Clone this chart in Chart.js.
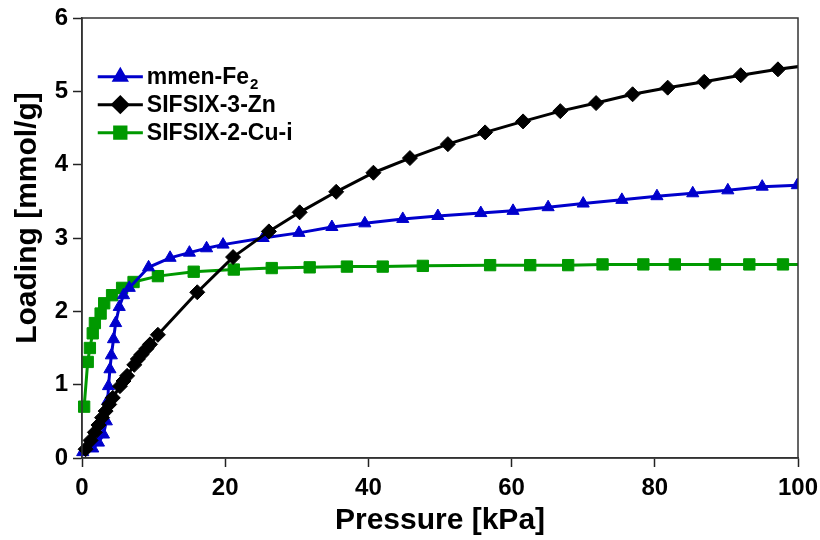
<!DOCTYPE html>
<html>
<head>
<meta charset="utf-8">
<script src="https://cdn.jsdelivr.net/npm/chart.js@4.4.0/dist/chart.umd.min.js"></script>
<style>
  html, body { margin: 0; padding: 0; background: #fff; }
  #wrap { width: 820px; height: 540px; position: relative; }
</style>
</head>
<body>
<div id="wrap"><canvas id="chart" width="820" height="540"></canvas></div>
<script>
// pressure in kPa, loading in mmol/g
const fePressure = [0.1, 1.5, 2.3, 3.0, 3.4, 3.6, 3.7, 3.9, 4.1, 4.4, 4.7, 5.2, 5.8, 6.6, 9.3, 12.3, 15.0, 17.4, 19.7,
    25.3, 30.3, 34.9, 39.5, 44.8, 49.7, 55.7, 60.2, 65.1, 70.0, 75.4, 80.3, 85.3, 90.2, 95.0, 99.9];
const feLoading = [0.08, 0.13, 0.21, 0.32, 0.50, 0.78, 0.98, 1.21, 1.40, 1.62, 1.84, 2.06, 2.22, 2.32, 2.60, 2.73, 2.80, 2.86, 2.91,
    3.00, 3.07, 3.15, 3.20, 3.26, 3.30, 3.34, 3.37, 3.42, 3.47, 3.52, 3.57, 3.61, 3.65, 3.70, 3.72];

const znPressure = [0.5, 1.2, 1.8, 2.3, 2.8, 3.3, 3.8, 4.3, 5.3, 5.8, 6.3, 7.3, 7.8, 8.3, 9.0, 9.5, 10.6, 16.1, 21.1,
    26.1, 30.4, 35.5, 40.7, 45.8, 51.1, 56.3, 61.6, 66.8, 71.8, 76.9, 81.8, 86.9, 92.0, 97.2, 102.5];
const znLoading = [0.12, 0.24, 0.35, 0.45, 0.55, 0.64, 0.73, 0.82, 0.98, 1.05, 1.12, 1.27, 1.35, 1.41, 1.49, 1.55, 1.68, 2.26, 2.74,
    3.09, 3.35, 3.63, 3.89, 4.09, 4.28, 4.44, 4.59, 4.73, 4.84, 4.96, 5.05, 5.13, 5.22, 5.30, 5.37];

const cuPressure = [0.3, 0.8, 1.1, 1.5, 1.8, 2.6, 3.1, 4.2, 5.6, 7.2, 10.6, 15.6, 21.2, 26.5, 31.8, 37.0, 42.0, 47.6,
    57.0, 62.6, 67.9, 72.7, 78.4, 82.8, 88.4, 93.2, 97.9, 103.0];
const cuLoading = [0.70, 1.31, 1.50, 1.70, 1.84, 1.97, 2.11, 2.22, 2.32, 2.40, 2.48, 2.54, 2.57, 2.59, 2.60, 2.61, 2.61, 2.62,
    2.63, 2.63, 2.63, 2.64, 2.64, 2.64, 2.64, 2.64, 2.64, 2.64];

const xTicks = [0, 20, 40, 60, 80, 100];
const yTicks = [0, 1, 2, 3, 4, 5, 6];
const xTitle = 'Pressure [kPa]';
const yTitle = 'Loading [mmol/g]';

const FONT = "'Liberation Sans', Arial, Helvetica, sans-serif";
const BLUE = '#0000cc';
const GREEN = '#009900';
const BLACK = '#000000';

function toPoints(xs, ys) {
    return xs.map((x, i) => ({ x: x, y: ys[i] }));
}

// legend drawn inside the plot, with a real subscript for Fe2
const legendItems = [
    { name: 'mmen-Fe', sub: '2', color: BLUE, style: 'triangle', radius: 7 },
    { name: 'SIFSIX-3-Zn', sub: '', color: BLACK, style: 'rectRot', radius: 7.5 },
    { name: 'SIFSIX-2-Cu-i', sub: '', color: GREEN, style: 'rect', radius: 8 }
];

const insideLegend = {
    id: 'insideLegend',
    afterDraw(chart) {
        const ctx = chart.ctx;
        const x0 = chart.scales.x.getPixelForValue(2.2);
        const x1 = chart.scales.x.getPixelForValue(8.5);
        const xm = (x0 + x1) / 2;
        ctx.save();
        legendItems.forEach((item, i) => {
            const y = chart.scales.y.getPixelForValue(5.2) + i * 28;
            ctx.strokeStyle = item.color;
            ctx.lineWidth = 3;
            ctx.beginPath();
            ctx.moveTo(x0, y);
            ctx.lineTo(x1, y);
            ctx.stroke();
            ctx.fillStyle = item.color;
            Chart.helpers.drawPoint(ctx, { pointStyle: item.style, radius: item.radius, rotation: 0, borderWidth: 1 }, xm, y);
            ctx.fill();
            ctx.fillStyle = '#000';
            ctx.font = 'bold 23px ' + FONT;
            ctx.textBaseline = 'middle';
            ctx.textAlign = 'left';
            ctx.fillText(item.name, x1 + 4, y + 1);
            if (item.sub) {
                const w = ctx.measureText(item.name).width;
                ctx.font = 'bold 15px ' + FONT;
                ctx.fillText(item.sub, x1 + 4 + w + 1, y + 8);
            }
        });
        ctx.restore();
    }
};

// box round the plot plus the two axis titles
const frame = {
    id: 'frame',
    afterDatasetsDraw(chart) {
        const a = chart.chartArea;
        const ctx = chart.ctx;
        ctx.save();
        ctx.strokeStyle = '#333';
        ctx.lineWidth = 1.5;
        ctx.strokeRect(a.left, a.top, a.right - a.left, a.bottom - a.top);
        ctx.restore();
    },
    afterDraw(chart) {
        const a = chart.chartArea;
        const ctx = chart.ctx;
        ctx.save();
        ctx.fillStyle = '#000';
        ctx.font = 'bold 30px ' + FONT;
        ctx.textAlign = 'center';
        ctx.textBaseline = 'middle';
        ctx.fillText(xTitle, (a.left + a.right) / 2, 521);
        ctx.translate(28, 218);
        ctx.rotate(-Math.PI / 2);
        ctx.fillText(yTitle, 0, 0);
        ctx.restore();
    }
};

function series(label, xs, ys, color, style, radius, order) {
    return {
        label: label,
        data: toPoints(xs, ys),
        showLine: true,
        borderColor: color,
        backgroundColor: color,
        borderWidth: 3,
        pointStyle: style,
        pointRadius: radius,
        pointBorderWidth: 1,
        pointBackgroundColor: color,
        pointBorderColor: color,
        tension: 0,
        order: order,
        clip: { left: 12, top: 12, right: 0, bottom: 12 }
    };
}

const ctx = document.getElementById('chart').getContext('2d');
new Chart(ctx, {
    type: 'scatter',
    data: {
        datasets: [
            series('SIFSIX-3-Zn', znPressure, znLoading, BLACK, 'rectRot', 7.5, 0),
            series('mmen-Fe2', fePressure, feLoading, BLUE, 'triangle', 7, 1),
            series('SIFSIX-2-Cu-i', cuPressure, cuLoading, GREEN, 'rect', 8, 2)
        ]
    },
    options: {
        responsive: false,
        animation: false,
        events: [],
        layout: { padding: { left: 0, top: 18, right: 22, bottom: 0 } },
        plugins: {
            legend: { display: false },
            tooltip: { enabled: false }
        },
        scales: {
            x: {
                type: 'linear',
                min: 0,
                max: 100,
                afterBuildTicks: s => { s.ticks = xTicks.map(v => ({ value: v })); },
                afterFit: s => { s.height = 82; s.paddingLeft = 0; s.paddingRight = 0; },
                grid: { display: true, drawOnChartArea: false, tickLength: 9, tickColor: '#222', tickWidth: 1.5 },
                border: { display: true, color: '#333', width: 1.5 },
                ticks: { color: '#000', padding: 7, maxRotation: 0, font: { family: FONT, size: 24, weight: 'bold' } },
                title: { display: false }
            },
            y: {
                type: 'linear',
                min: 0,
                max: 6,
                afterBuildTicks: s => { s.ticks = yTicks.map(v => ({ value: v })); },
                afterFit: s => { s.width = 82; s.paddingTop = 0; s.paddingBottom = 0; },
                grid: { display: true, drawOnChartArea: false, tickLength: 9, tickColor: '#222', tickWidth: 1.5 },
                border: { display: true, color: '#333', width: 1.5 },
                ticks: { color: '#000', padding: 5, font: { family: FONT, size: 24, weight: 'bold' } },
                title: { display: false }
            }
        }
    },
    plugins: [frame, insideLegend]
});
</script>
</body>
</html>
